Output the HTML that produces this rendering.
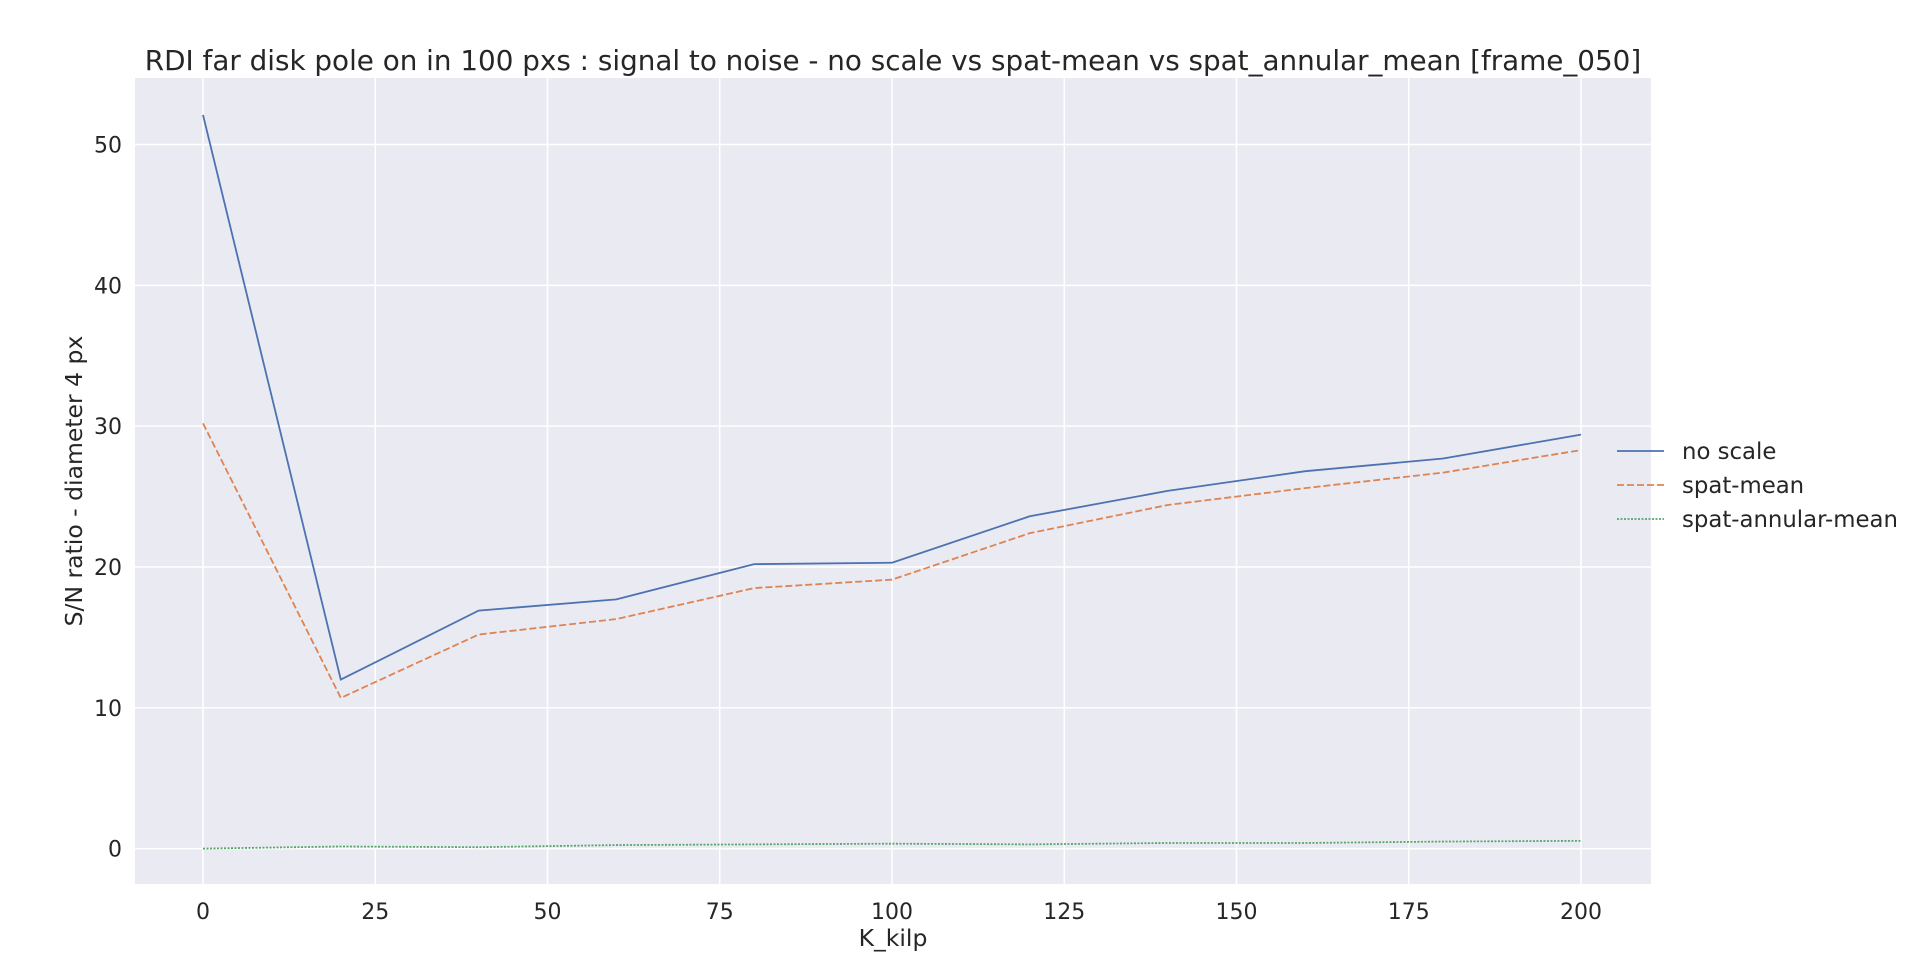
<!DOCTYPE html>
<html><head><meta charset="utf-8"><style>
body{margin:0;background:#fff;}
svg text{font-family:"DejaVu Sans","Liberation Sans",sans-serif;fill:#262626;}
</style></head><body>
<svg width="1920" height="973" xmlns="http://www.w3.org/2000/svg">
<g id="root"></g>
</svg>
<script>
const kValues=[0,20,40,60,80,100,120,140,160,180,200];
const noScale=[52.1,12.0,16.9,17.7,20.2,20.3,23.6,25.4,26.8,27.7,29.4];
const spatMean=[30.2,10.7,15.2,16.3,18.5,19.1,22.4,24.4,25.6,26.7,28.3];
const spatAnnular=[0.0,0.15,0.1,0.25,0.3,0.35,0.3,0.4,0.4,0.5,0.55];
const xTicks=[0,25,50,75,100,125,150,175,200];
const yTicks=[0,10,20,30,40,50];
const NS='http://www.w3.org/2000/svg';
const root=document.getElementById('root');
const L=135,T=78,R=1651,B=884;
function sx(v){return 203+v*(1581-203)/200;}
function sy(v){return 848.6-v*(848.6-144.5)/50;}
function mk(tag,attrs,parent){const e=document.createElementNS(NS,tag);for(const k in attrs)e.setAttribute(k,attrs[k]);(parent||root).appendChild(e);return e;}
const bg=mk('rect',{x:L,y:T,width:R-L,height:B-T,fill:'#eaeaf2'});


xTicks.forEach(t=>{
 const g=mk('line',{x1:sx(t),x2:sx(t),y1:T,y2:B,stroke:'#fff','stroke-width':1.5});
 
 
 const tx=mk('text',{x:sx(t),y:B+35,'text-anchor':'middle','font-size':22});
 tx.textContent=t;
 
 
});
yTicks.forEach(t=>{
 const g=mk('line',{x1:L,x2:R,y1:sy(t),y2:sy(t),stroke:'#fff','stroke-width':1.5});
 
 
 const tx=mk('text',{x:L-13,y:sy(t)+8,'text-anchor':'end','font-size':22});
 tx.textContent=t;
 
 
});
const series=[[noScale,'#4c72b0','','line-no-scale'],[spatMean,'#dd8452','7,3','line-spat-mean'],[spatAnnular,'#55a868','2,1.5','line-spat-annular-mean']];
series.forEach(s=>{
 const p=mk('polyline',{points:kValues.map((k,i)=>sx(k)+','+sy(s[0][i])).join(' '),fill:'none',stroke:s[1],'stroke-width':1.8,'stroke-dasharray':s[2]});
 
 
});
const names=['no scale','spat-mean','spat-annular-mean'];
names.forEach((n,i)=>{
 const y=451+i*34;
 const g=mk('g',{});
 
 
 mk('line',{x1:1617,x2:1664,y1:y,y2:y,stroke:series[i][1],'stroke-width':1.8,'stroke-dasharray':series[i][2]},g);
 const t=mk('text',{x:1682,y:y+8,'font-size':22.8},g);t.textContent=n;
});
const title=mk('text',{x:893,y:70,'text-anchor':'middle','font-size':27.8});
title.textContent='RDI far disk pole on in 100 pxs : signal to noise - no scale vs spat-mean vs spat_annular_mean [frame_050]';


const xl=mk('text',{x:893,y:946,'text-anchor':'middle','font-size':23.5});
xl.textContent='K_kilp';


const yl=mk('text',{x:0,y:0,'text-anchor':'middle','font-size':23.5,transform:'translate(82,481) rotate(-90)'});
yl.textContent='S/N ratio - diameter 4 px';


</script>
</body></html>
